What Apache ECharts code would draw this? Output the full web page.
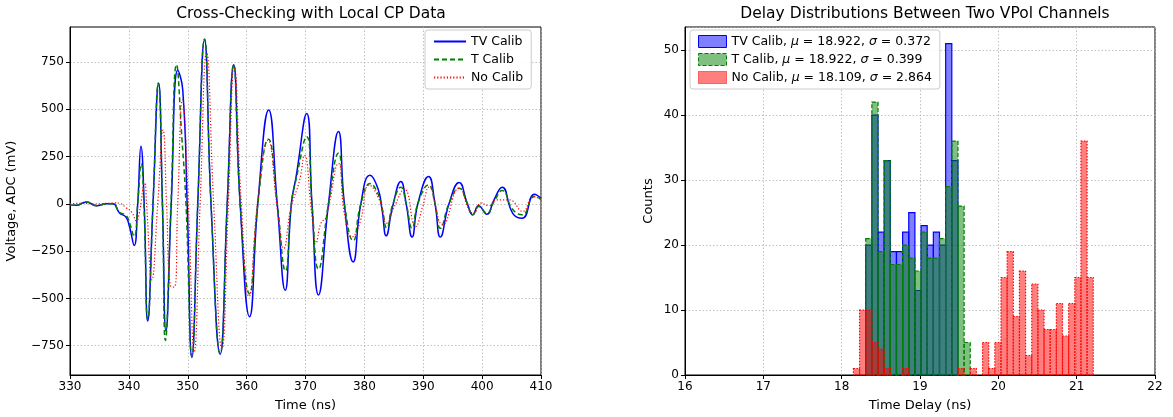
<!DOCTYPE html>
<html><head><meta charset="utf-8">
<script src="https://cdn.jsdelivr.net/npm/echarts@6/dist/echarts.min.js"></script>
<style>html,body{margin:0;padding:0;background:#fff}#c{width:1173px;height:417px}</style>
</head><body><div id="c"></div>
<script>
// ---------- Left panel: waveforms (time ns, voltage mV) ----------
const tvCalib = [
[330,-7],[331,-8],[332.8,10],[334.5,-10],[336.2,0],[337.3,0],[338.4,-48],[339.5,-70],[340.1,-120],[340.9,-220],[341.5,0],[342.05,305],[342.6,0],[343.2,-620],[344.1,0],[345.05,637],[345.7,0],[346.3,-672],[347.2,0],[348.3,706],[349.15,603],[349.9,0],[350.7,-812],[351.7,0],[352.85,868],[353.95,0],[355.5,-795],[356.7,0],[357.8,735],[358.9,0],[360.5,-597],[361.9,0],[363.75,496],[365.2,0],[366.55,-457],[367.6,0],[368.4,142],[370.2,478],[371.1,0],[372.2,-482],[373.9,0],[375.6,382],[376.6,0],[378.1,-307],[379.4,0],[380.96,151],[382.3,81],[383.0,-30],[383.7,-169],[384.8,-14],[386.2,118],[387.1,0],[388.1,-176],[389.1,3],[390.9,144],[392.0,0],[392.9,-176],[394.4,3],[396.1,113],[397.5,0],[398.4,-58],[399.4,-10],[400.8,-55],[402.0,20],[403.4,88],[405.2,-50],[406.8,-76],[408.9,51],[410,28]
];
const tCalib = [
[330,-7],[331,-8],[332.8,10],[334.5,-10],[336.2,0],[337.3,0],[338.4,-45],[339.5,-60],[340.1,-100],[340.9,-173],[341.5,0],[342.1,212],[342.55,0],[343.2,-612],[344.1,0],[345.0,638],[345.7,0],[346.2,-722],[347.15,0],[348.1,736],[349.0,350],[349.7,0],[350.7,-806],[351.7,0],[352.85,872],[353.95,0],[355.5,-790],[356.7,0],[357.8,735],[358.9,0],[360.5,-475],[361.9,0],[363.7,342],[365.2,0],[366.6,-355],[367.6,0],[368.4,130],[370.2,355],[371.1,0],[372.2,-345],[373.9,0],[375.6,268],[376.6,0],[378.1,-195],[379.4,0],[381.0,107],[382.3,54],[383.0,-20],[383.8,-129],[384.8,-5],[386.2,88],[387.1,0],[388.1,-129],[389.1,3],[390.9,100],[392.0,0],[392.9,-129],[394.4,3],[396.1,83],[397.5,0],[398.4,-58],[399.4,-14],[400.8,-50],[402.0,10],[403.4,70],[405.2,-30],[406.8,-58],[408.9,39],[410,25]
];
const noCalib = [
[330,0],[332,3],[334,0],[336,2],[337.5,5],[338.5,2],[339.5,-20],[340.5,-45],[341.3,-90],[341.7,-60],[342.7,110],[343.0,0],[343.9,-402],[344.9,0],[345.8,390],[346.4,0],[347.0,-430],[347.7,-440],[348.3,0],[349.1,550],[350.1,0],[351.1,-780],[352.1,0],[353.2,800],[354.4,0],[355.8,-765],[356.9,0],[357.9,725],[359.1,0],[360.4,-490],[361.9,20],[363.6,336],[365.3,-50],[366.3,-236],[367.5,-25],[369.0,125],[369.8,257],[371.05,-51],[371.8,-205],[372.6,-104],[373.5,-69],[375.6,213],[376.6,-51],[377.9,-175],[379.2,-104],[380.85,99],[382.55,21],[383.8,-102],[385.1,-14],[386.8,78],[388.7,-120],[389.9,-14],[391.0,88],[393.3,-111],[396.1,83],[397.8,-32],[398.6,-50],[399.8,4],[401.2,-10],[402.4,21],[404.6,21],[406.9,-40],[408.7,39],[410,21]
];
const leftYTicks = [-750,-500,-250,0,250,500,750];

// ---------- Right panel: delay histograms (shared bins) ----------
const binStart = 18.150;
const binWidth = 0.0785;
const tvCounts = [0,0,20,40,22,33,19,19,22,25,13,23,20,22,20,51,33,0,0,0,0,0,0,0,0,0,0,0,0,0,0,0,0,0,0,0,0,0,0];
const tCounts  = [0,0,21,42,19,33,17,17,20,18,16,22,18,18,21,29,36,26,5,0,0,0,0,0,0,0,0,0,0,0,0,0,0,0,0,0,0,0,0];
const noCounts = [1,10,10,5,4,1,0,0,1,0,0,0,0,0,0,0,0,1,0,1,0,5,1,5,15,19,9,16,3,14,10,7,7,11,6,11,15,36,15];
const legendNames = ['TV Calib', 'T Calib', 'No Calib'];
const histLegend = ['TV Calib, {i|μ} = 18.922, {i|σ} = 0.372', 'T Calib, {i|μ} = 18.922, {i|σ} = 0.399', 'No Calib, {i|μ} = 18.109, {i|σ} = 2.864'];

const FONT = 'DejaVu Sans';
const minus = v => String(v).replace('-', '\u2212');
function toBins(counts){ return counts.map((c,i)=>[binStart+i*binWidth, binStart+(i+1)*binWidth, c]); }
function histSeries(name, counts, fill, stroke, dash){
  return {
    type:'custom', name:name, xAxisIndex:1, yAxisIndex:1,
    encode:{x:[0,1], y:2}, data:toBins(counts),
    itemStyle:{color:fill, borderColor:stroke},
    renderItem:function(params, api){
      const c = api.value(2); if(!c) return null;
      const p0 = api.coord([api.value(0), c]);
      const p1 = api.coord([api.value(1), 0]);
      return {type:'rect', shape:{x:p0[0], y:p0[1], width:p1[0]-p0[0], height:p1[1]-p0[1]},
        style:{fill:fill, stroke:stroke, lineWidth:1.2, lineDash:dash}};
    }
  };
}
const gridLine = {show:true, lineStyle:{color:'#b0b0b0', type:[1.5,2], width:0.8}};
const axisLbl = {fontFamily:FONT, fontSize:12, color:'#000'};
const nameStyle = {fontFamily:FONT, fontSize:13, color:'#000'};
const legendText = {fontFamily:FONT, fontSize:12.5, color:'#000'};

const chart = echarts.init(document.getElementById('c'), null, {renderer:'canvas'});
chart.setOption({
  animation:false,
  backgroundColor:'#fff',
  title:[
    {text:'Cross-Checking with Local CP Data', left:306, top:1, textAlign:'center', textStyle:{fontFamily:FONT, fontSize:15.5, fontWeight:'normal', color:'#000'}},
    {text:'Delay Distributions Between Two VPol Channels', left:920, top:1, textAlign:'center', textStyle:{fontFamily:FONT, fontSize:15.5, fontWeight:'normal', color:'#000'}}
  ],
  grid:[
    {left:70, right:632, top:27, bottom:42, show:true, borderColor:'#000', borderWidth:1, backgroundColor:'transparent'},
    {left:685, right:18, top:27, bottom:42, show:true, borderColor:'#000', borderWidth:1, backgroundColor:'transparent'}
  ],
  xAxis:[
    {type:'value', gridIndex:0, min:330, max:410, interval:10, name:'Time (ns)', nameLocation:'middle', nameGap:24, nameTextStyle:nameStyle,
     axisLine:{show:true, onZero:false, lineStyle:{color:'#000'}}, axisTick:{show:true, length:4, lineStyle:{color:'#000'}},
     axisLabel:Object.assign({margin:6}, axisLbl), splitLine:gridLine},
    {type:'value', gridIndex:1, min:16, max:22, interval:1, name:'Time Delay (ns)', nameLocation:'middle', nameGap:24, nameTextStyle:nameStyle,
     axisLine:{show:true, onZero:false, lineStyle:{color:'#000'}}, axisTick:{show:true, length:4, lineStyle:{color:'#000'}},
     axisLabel:Object.assign({margin:6}, axisLbl), splitLine:gridLine}
  ],
  yAxis:[
    {type:'value', gridIndex:0, min:-905, max:935, name:'Voltage, ADC (mV)', nameLocation:'middle', nameGap:52, nameRotate:90, nameTextStyle:nameStyle,
     axisLine:{show:true, onZero:false, lineStyle:{color:'#000'}},
     axisTick:{show:true, length:4, lineStyle:{color:'#000'}, customValues:leftYTicks},
     axisLabel:Object.assign({margin:6, customValues:leftYTicks, formatter:minus}, axisLbl), splitLine:gridLine},
    {type:'value', gridIndex:1, min:0, max:53.55, interval:10, name:'Counts', nameLocation:'middle', nameGap:30, nameRotate:90, nameTextStyle:nameStyle,
     axisLine:{show:true, onZero:false, lineStyle:{color:'#000'}}, axisTick:{show:true, length:4, lineStyle:{color:'#000'}},
     axisLabel:Object.assign({margin:6, showMaxLabel:false}, axisLbl), splitLine:gridLine}
  ],
  legend:[
    {data:legendNames, orient:'vertical', left:425, top:30, padding:[5,8,5,8], itemGap:5, itemWidth:32, itemHeight:10,
     itemStyle:{opacity:0},
     backgroundColor:'rgba(255,255,255,0.85)', borderColor:'#cccccc', borderWidth:1, borderRadius:3,
     textStyle:legendText},
    {data:[
      {name:histLegend[0], icon:'rect', itemStyle:{color:'rgba(0,0,255,0.5)', borderColor:'#0000ff', borderWidth:1}},
      {name:histLegend[1], icon:'rect', itemStyle:{color:'rgba(0,128,0,0.5)', borderColor:'#008000', borderWidth:1, borderType:'dashed'}},
      {name:histLegend[2], icon:'rect', itemStyle:{color:'rgba(255,0,0,0.5)', borderColor:'#ff0000', borderWidth:1, borderType:'dotted'}}
     ],
     orient:'vertical', left:690, top:30, padding:[5,8,5,8], itemGap:5, itemWidth:28, itemHeight:12,
     backgroundColor:'rgba(255,255,255,0.85)', borderColor:'#cccccc', borderWidth:1, borderRadius:3,
     textStyle:Object.assign({rich:{i:{fontFamily:FONT, fontStyle:'italic', fontSize:12.5, color:'#000'}}}, legendText)}
  ],
  series:[
    {type:'line', name:'TV Calib', xAxisIndex:0, yAxisIndex:0, data:tvCalib, smooth:0.5, symbol:'none', z:3,
     lineStyle:{color:'#0000ff', width:1.5}, itemStyle:{color:'#0000ff'}},
    {type:'line', name:'T Calib', xAxisIndex:0, yAxisIndex:0, data:tCalib, smooth:0.5, symbol:'none', z:4,
     lineStyle:{color:'#008000', width:1.5, type:[5,3]}, itemStyle:{color:'#008000'}},
    {type:'line', name:'No Calib', xAxisIndex:0, yAxisIndex:0, data:noCalib, smooth:0.5, symbol:'none', z:5,
     lineStyle:{color:'#ff0000', width:1.2, type:[1.2,2]}, itemStyle:{color:'#ff0000'}},
    histSeries(histLegend[0], tvCounts, 'rgba(0,0,255,0.5)', '#0000ff', null),
    histSeries(histLegend[1], tCounts, 'rgba(0,128,0,0.5)', '#008000', [4,2]),
    histSeries(histLegend[2], noCounts, 'rgba(255,0,0,0.5)', '#ff0000', [1.5,1.5])
  ]
});
</script></body></html>
